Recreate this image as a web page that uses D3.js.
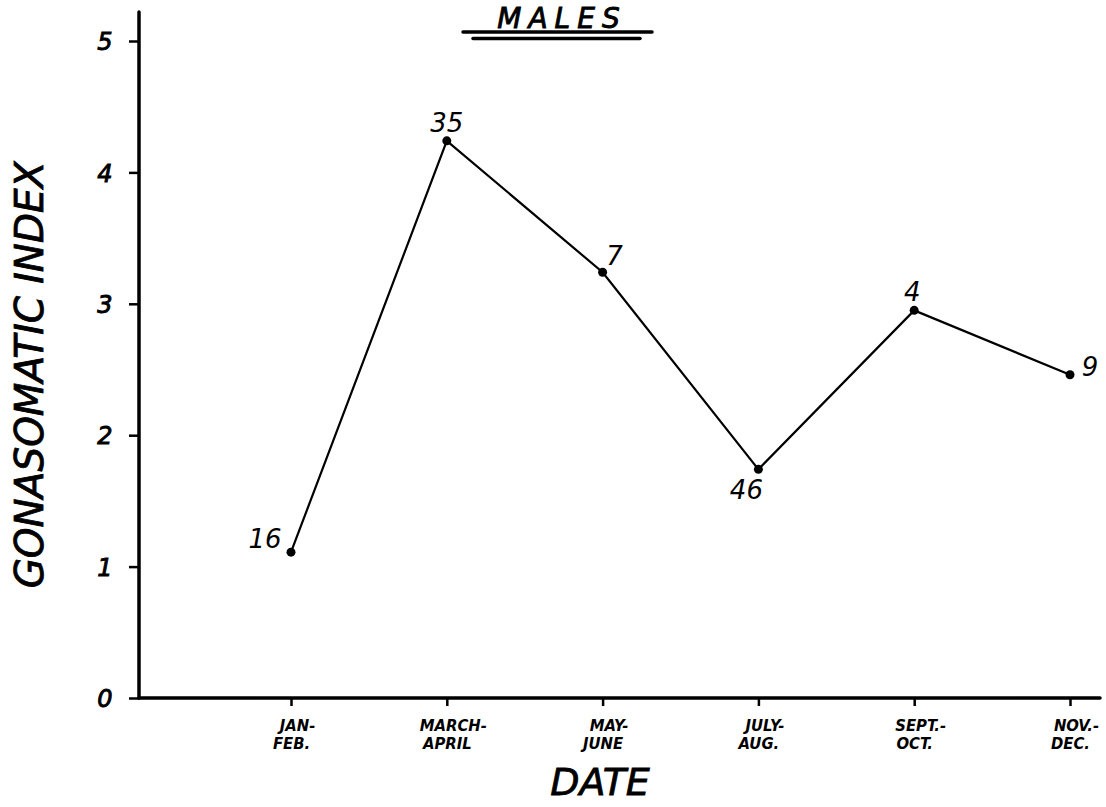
<!DOCTYPE html>
<html>
<head>
<meta charset="utf-8">
<script src="https://cdn.jsdelivr.net/npm/d3@7/dist/d3.min.js"></script>
<style>
  html, body { margin: 0; padding: 0; background: #fff; }
  svg { display: block; }
  text { font-family: "DejaVu Sans", sans-serif; font-style: italic; fill: #000; }
</style>
</head>
<body>
<script>
// ---- data ----
const categories = ["JAN-|FEB.", "MARCH-|APRIL", "MAY-|JUNE", "JULY-|AUG.", "SEPT.-|OCT.", "NOV.-|DEC."];
const values = [1.11, 4.24, 3.24, 1.74, 2.95, 2.46];
const sampleSizes = ["16", "35", "7", "46", "4", "9"];
const yTicks = [0, 1, 2, 3, 4, 5];
const title = "MALES";
const xTitle = "DATE";
const yTitle = "GONASOMATIC INDEX";

// ---- layout ----
const W = 1106, H = 807;
const svg = d3.select("body").append("svg").attr("width", W).attr("height", H);

const x = d3.scalePoint().domain(categories).range([291, 1070]);
const y = d3.scaleLinear().domain([0, 5]).range([698, 41]);
const axisX0 = 139, axisXEnd = 1100, axisYTop = 12;

// Y axis
const yAxis = svg.append("g").attr("transform", `translate(${axisX0},0)`)
  .call(d3.axisLeft(y).tickValues(yTicks).tickSize(10).tickSizeOuter(0).tickFormat(d3.format("d")));
yAxis.select(".domain").attr("d", `M0,${y(0)}V${axisYTop}`).attr("stroke-width", 3.5).attr("stroke-linecap", "round");
yAxis.selectAll(".tick line").attr("stroke-width", 2.5);
yAxis.selectAll(".tick text").attr("x", -34).attr("dy", "0.36em").attr("text-anchor", "middle")
  .attr("stroke", "#000").attr("stroke-width", 0.9)
  .style("font-size", "24px").style("font-weight", "normal")
  .style("font-family", "'DejaVu Sans', sans-serif").style("font-style", "italic");

// X axis
const xAxis = svg.append("g").attr("transform", `translate(0,${y(0)})`)
  .call(d3.axisBottom(x).tickSize(8).tickSizeOuter(0).tickFormat(""));
xAxis.select(".domain").attr("d", `M${axisX0},0H${axisXEnd}`).attr("stroke-width", 3.5).attr("stroke-linecap", "round");
xAxis.selectAll(".tick line").attr("stroke-width", 2.5);
xAxis.selectAll(".tick").each(function(d) {
  const parts = d.split("|");
  const t = d3.select(this).append("text")
    .attr("text-anchor", "middle")
    .style("font-size", "16.5px").style("font-weight", "bold").style("font-style", "italic")
    .style("font-family", "'DejaVu Sans Condensed', 'DejaVu Sans', sans-serif");
  t.append("tspan").attr("x", 6).attr("y", 33).text(parts[0]);
  t.append("tspan").attr("x", 0).attr("y", 51).text(parts[1]);
});

// line
const line = d3.line().x((d, i) => x(categories[i])).y(d => y(d));
svg.append("path").datum(values).attr("d", line)
  .attr("fill", "none").attr("stroke", "#000").attr("stroke-width", 2.2);

svg.selectAll("circle.pt").data(values).enter().append("circle").attr("class", "pt")
  .attr("cx", (d, i) => x(categories[i])).attr("cy", d => y(d)).attr("r", 4.5).attr("fill", "#000");

// sample-size labels (offsets relative to each point)
const labelOffsets = [
  { dx: -26, dy: -4 },
  { dx: 0, dy: -9 },
  { dx: 12, dy: -7 },
  { dx: -12, dy: 30 },
  { dx: -2, dy: -9 },
  { dx: 20, dy: 1 }
];
svg.selectAll("text.n").data(values).enter().append("text").attr("class", "n")
  .attr("x", (d, i) => x(categories[i]) + labelOffsets[i].dx)
  .attr("y", (d, i) => y(d) + labelOffsets[i].dy)
  .attr("text-anchor", "middle")
  .style("font-size", "26px")
  .text((d, i) => sampleSizes[i]);

// title
svg.append("text").attr("x", 562).attr("y", 28).attr("text-anchor", "middle")
  .style("font-size", "28px").style("letter-spacing", "7px")
  .attr("stroke", "#000").attr("stroke-width", 0.9).text(title);
svg.append("line").attr("x1", 463).attr("x2", 652).attr("y1", 32).attr("y2", 32)
  .attr("stroke", "#000").attr("stroke-width", 3.5).attr("stroke-linecap", "round");
svg.append("line").attr("x1", 473).attr("x2", 640).attr("y1", 38.5).attr("y2", 38.5)
  .attr("stroke", "#000").attr("stroke-width", 3.5).attr("stroke-linecap", "round");

// axis titles
svg.append("text").attr("x", 600).attr("y", 795).attr("text-anchor", "middle")
  .style("font-size", "38px").attr("stroke", "#000").attr("stroke-width", 0.8).text(xTitle);
svg.append("text").attr("transform", "translate(43,375) rotate(-90)").attr("text-anchor", "middle")
  .style("font-size", "39px").attr("stroke", "#000").attr("stroke-width", 0.8).text(yTitle);
</script>
</body>
</html>
